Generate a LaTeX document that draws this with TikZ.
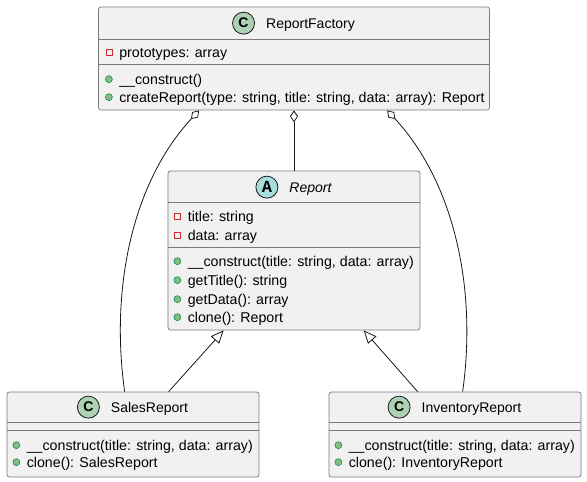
\documentclass[tikz,border=0pt]{standalone}
\usepackage{fontspec}
\setmainfont{Liberation Sans}
\newfontfamily\iconmono{Liberation Mono}
\usetikzlibrary{positioning,arrows.meta,calc}
\definecolor{classbg}{HTML}{F1F1F1}
\definecolor{umlline}{HTML}{181818}
\definecolor{boxline}{HTML}{7A7A7A}
\definecolor{classicon}{HTML}{ADD1B2}
\definecolor{abstricon}{HTML}{A9DCDF}
\definecolor{privred}{HTML}{C82930}
\definecolor{pubgreen}{HTML}{84BE84}
\definecolor{pubedge}{HTML}{038048}
\tikzset{
  cls/.style   = {rectangle, rounded corners=2.5pt, draw=boxline, fill=classbg, line width=0.7pt, inner sep=0pt},
  sep/.style   = {draw=boxline, line width=0.7pt},
  badge/.style = {circle, draw=umlline, fill=#1, line width=0.8pt, minimum size=22pt, inner sep=0pt,
                  font=\fontsize{14}{14}\selectfont\bfseries},
  cname/.style = {inner sep=0pt, anchor=base, text height=11pt, text depth=0pt, font=\fontsize{14}{16}\selectfont},
  mbr/.style   = {inner sep=0pt, anchor=base west, text height=11pt, text depth=0pt,
                  font=\fontsize{14.2}{16}\selectfont},
  priv/.style  = {mbr, label={[rectangle, draw=privred, line width=0.8pt, minimum size=6pt, inner sep=0pt,
                  xshift=-6.5pt]left:{}}},
  pub/.style   = {mbr, label={[circle, draw=pubedge, line width=0.5pt, fill=pubgreen, minimum size=7pt, inner sep=0pt,
                  xshift=-6.5pt]left:{}}},
  agg/.style   = {{Diamond[open, length=12pt, width=8pt]}-, line width=0.8pt, draw=umlline},
  inh/.style   = {-{Triangle[open, length=13pt, width=11pt]}, line width=0.8pt, draw=umlline},
}

\begin{document}
\begin{tikzpicture}[x=1pt, y=1pt]
  \useasboundingbox (0,0) rectangle (587,-482);

  % class boxes
  \node[cls, minimum width=391pt, minimum height=103pt] (fac) at (294,-58.5) {};
  \node[cls, minimum width=252pt, minimum height=159pt] (rep) at (294,-250.5) {};
  \node[cls, minimum width=252pt, minimum height=85pt] (sales) at (133,-434.5) {};
  \node[cls, minimum width=252pt, minimum height=85pt] (inv) at (455,-434.5) {};

  % ReportFactory
  \node[cname] (ft) at ($(fac.north)+(16.5,-22)$) {ReportFactory};
  \node[badge=classicon, left=11pt of ft] (fc) {C};
  \draw[sep] ($(fac.north west)+(0,-33)$) -- ($(fac.north east)+(0,-33)$);
  \draw[sep] ($(fac.north west)+(0,-58)$) -- ($(fac.north east)+(0,-58)$);
  \node[priv] (f1) at ($(fac.north west)+(21,-51)$) {prototypes: array};
  \node[pub] (f2) at ($(fac.north west)+(21,-78)$) {\_\_construct()};
  \node[pub] (f3) at ($(fac.north west)+(21,-96)$) {createReport(type: string, title: string, data: array): Report};

  % Report (abstract)
  \node[cname] (rt) at ($(rep.north)+(16.5,-22)$) {\itshape Report};
  \node[badge=abstricon, left=11pt of rt] (rc) {\fontsize{17}{17}\selectfont\iconmono A};
  \draw[sep] ($(rep.north west)+(0,-32)$) -- ($(rep.north east)+(0,-32)$);
  \draw[sep] ($(rep.north west)+(0,-77)$) -- ($(rep.north east)+(0,-77)$);
  \node[priv] (r1) at ($(rep.north west)+(20,-51)$) {title: string};
  \node[priv] (r2) at ($(rep.north west)+(20,-70)$) {data: array};
  \node[pub] (r3) at ($(rep.north west)+(20,-96)$) {\_\_construct(title: string, data: array)};
  \node[pub] (r4) at ($(rep.north west)+(20,-115)$) {getTitle(): string};
  \node[pub] (r5) at ($(rep.north west)+(20,-134)$) {getData(): array};
  \node[pub] (r6) at ($(rep.north west)+(20,-152)$) {clone(): Report};

  % SalesReport
  \node[cname] (st) at ($(sales.north)+(16.5,-21)$) {SalesReport};
  \node[badge=classicon, left=11pt of st] (sc) {C};
  \draw[sep] ($(sales.north west)+(0,-31)$) -- ($(sales.north east)+(0,-31)$);
  \draw[sep] ($(sales.north west)+(0,-39)$) -- ($(sales.north east)+(0,-39)$);
  \node[pub] (s1) at ($(sales.north west)+(20,-59)$) {\_\_construct(title: string, data: array)};
  \node[pub] (s2) at ($(sales.north west)+(20,-76)$) {clone(): SalesReport};

  % InventoryReport
  \node[cname] (it) at ($(inv.north)+(16.5,-21)$) {InventoryReport};
  \node[badge=classicon, left=11pt of it] (ic) {C};
  \draw[sep] ($(inv.north west)+(0,-31)$) -- ($(inv.north east)+(0,-31)$);
  \draw[sep] ($(inv.north west)+(0,-39)$) -- ($(inv.north east)+(0,-39)$);
  \node[pub] (i1) at ($(inv.north west)+(20,-59)$) {\_\_construct(title: string, data: array)};
  \node[pub] (i2) at ($(inv.north west)+(20,-76)$) {clone(): InventoryReport};

  % aggregation
  \draw[agg] (fac.south) -- (rep.north);
  \draw[agg] ($(fac.south west)+(101,0)$) .. controls +(-65,-70) and +(-15,107) .. ($(sales.north west)+(118,0)$);
  \draw[agg] ($(fac.south west)+(289,0)$) .. controls +(65,-70) and +(15,107) .. ($(inv.north west)+(134,0)$);

  % inheritance
  \draw[inh] ($(sales.north west)+(162,0)$) -- ($(rep.south west)+(56,0)$);
  \draw[inh] ($(inv.north west)+(89,0)$) -- ($(rep.south west)+(196,0)$);
\end{tikzpicture}
\end{document}
